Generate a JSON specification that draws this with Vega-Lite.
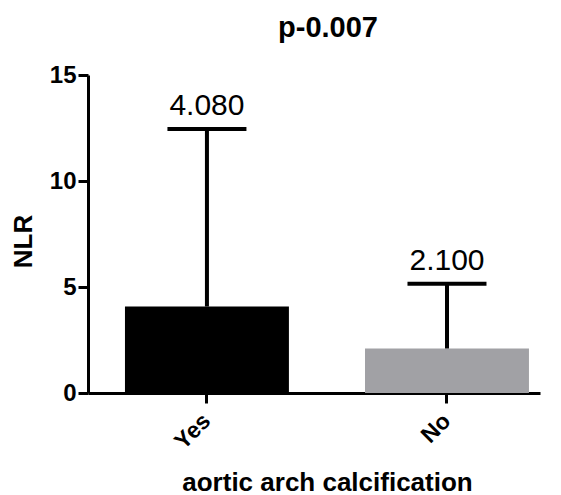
{
  "$schema": "https://vega.github.io/schema/vega-lite/v6.json",
  "autosize": {"type": "none"},
  "padding": {"left": 88, "top": 75, "right": 21, "bottom": 102},
  "width": 452,
  "height": 318,
  "background": "white",
  "config": {
    "font": "Liberation Sans",
    "view": {"stroke": null},
    "axis": {"grid": false, "domainColor": "black", "tickColor": "black", "domainWidth": 3, "tickWidth": 3, "tickSize": 10, "labelColor": "black", "titleColor": "black", "labelFont": "Liberation Sans", "titleFont": "Liberation Sans", "labelFontSize": 23, "labelFontWeight": "bold", "titleFontSize": 25, "titleFontWeight": "bold"}
  },
  "title": {"text": "p-0.007", "fontSize": 29, "fontWeight": "bold", "font": "Liberation Sans", "color": "black", "anchor": "middle", "dx": 14, "baseline": "alphabetic", "offset": -3},
  "data": {"values": [
    {"group": "Yes", "value": 4.08, "sd_top": 12.45},
    {"group": "No", "value": 2.1, "sd_top": 5.15}
  ]},
  "encoding": {
    "x": {"field": "group", "type": "nominal", "sort": ["Yes", "No"],
      "scale": {"paddingInner": 0.317, "paddingOuter": 0.1, "align": 0.77},
      "axis": {"title": "aortic arch calcification", "titleFontSize": 26, "titleFontWeight": "bold", "titleX": 239, "titleY": 97, "titleBaseline": "alphabetic", "titleAlign": "center", "labelAngle": -45, "labelAlign": "right", "labelBaseline": "middle", "labelFontSize": 23, "labelFontWeight": "bold", "tickSize": 10, "labelPadding": 14}}
  },
  "layer": [
    {"mark": {"type": "bar"},
     "encoding": {
       "y": {"field": "value", "type": "quantitative", "scale": {"domain": [0, 15], "nice": false},
         "axis": {"title": "NLR", "values": [0, 5, 10, 15], "titleFontSize": 26, "titleFontWeight": "bold", "titleX": -65, "titleY": 166, "titleAngle": -90, "titleBaseline": "middle", "titleAlign": "center", "labelFontSize": 24, "labelFontWeight": "bold", "tickSize": 10, "labelPadding": 2}},
       "color": {"field": "group", "type": "nominal", "scale": {"domain": ["Yes", "No"], "range": ["#000000", "#a1a1a5"]}, "legend": null}
     }},
    {"mark": {"type": "rule", "strokeWidth": 4, "color": "black"},
     "encoding": {"y": {"field": "value", "type": "quantitative"}, "y2": {"field": "sd_top"}}},
    {"mark": {"type": "tick", "size": 79, "thickness": 4, "color": "black", "opacity": 1},
     "encoding": {"y": {"field": "sd_top", "type": "quantitative"}}},
    {"mark": {"type": "text", "fontSize": 30, "dy": -14, "baseline": "alphabetic", "color": "black", "font": "Liberation Sans"},
     "encoding": {"y": {"field": "sd_top", "type": "quantitative"}, "text": {"field": "value", "type": "quantitative", "format": ".3f"}}}
  ]
}
